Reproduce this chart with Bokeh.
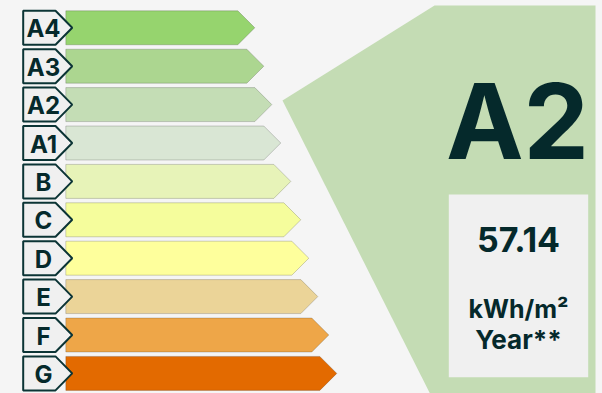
from bokeh.plotting import figure
from bokeh.models import Range1d, ColumnDataSource
from bokeh.core.properties import value
from bokeh.embed import file_html
from bokeh.resources import INLINE

# ---- data ----
categories = ["A4", "A3", "A2", "A1", "B", "C", "D", "E", "F", "G"]
bar_colors = ["#96d46e", "#acd690", "#c4ddb5", "#d9e6d4", "#e7f3b8",
              "#f5fd9c", "#feff9c", "#ebd498", "#eea648", "#e36a00"]
bar_lengths = [189, 198, 206, 215, 225, 235, 243, 252, 263, 271]
rating = "A2"
consumption = "57.14"
unit_line1 = "kWh/m²"
unit_line2 = "Year**"

BG = "#f5f5f5"
DARK = "#05292b"
PANEL = "#c4dcb4"
K = 0.33  # baseline correction factor

W, H = 602, 393
p = figure(width=W, height=H, output_backend="svg", toolbar_location=None,
           x_range=Range1d(0, 602), y_range=Range1d(393, 0),
           min_border=0, background_fill_color=BG, border_fill_color=BG,
           outline_line_color=None)
p.axis.visible = False
p.grid.visible = False

# right panel
p.patch([434, 595, 595, 433, 282], [5, 5, 400, 400, 100],
        fill_color=PANEL, line_color=None)
p.quad(left=[448.3], right=[587.7], top=[194], bottom=[376.7],
       fill_color="#f0f0f0", line_color=None)

# bars
top0, pitch, bh = 27.3, 38.4, 34.0
bx0 = 65.3
xs, ys = [], []
lx, ly = [], []
cy = []
for i, L in enumerate(bar_lengths):
    c = top0 + i * pitch
    cy.append(c)
    tip = bx0 + L
    xs.append([bx0, tip - bh / 2, tip, tip - bh / 2, bx0])
    ys.append([c - bh / 2, c - bh / 2, c, c + bh / 2, c + bh / 2])
    lx.append([22.7, 55.0, 71.7, 55.0, 22.7])
    ly.append([c - bh / 2, c - bh / 2, c, c + bh / 2, c + bh / 2])

src = ColumnDataSource(dict(xs=xs, ys=ys, color=bar_colors))
p.patches("xs", "ys", source=src, fill_color="color",
          line_color="#000000", line_alpha=0.18, line_width=1)

lsrc = ColumnDataSource(dict(xs=lx, ys=ly))
p.patches("xs", "ys", source=lsrc, fill_color="#f0f0f0",
          line_color="#0b3435", line_width=2)


def txt(x, y, t, size):
    return p.text(x, y, text=t, text_align="center",
                  text_baseline="alphabetic", text_font=value("Inter"),
                  text_font_style="bold", text_font_size=f"{size}px",
                  text_color=DARK)


lab_size = 24
tsrc = ColumnDataSource(dict(x=[43.0] * len(categories),
                             y=[c + 9 - K * lab_size for c in cy],
                             t=categories))
p.text("x", "y", text="t", source=tsrc, text_align="center",
       text_baseline="alphabetic", text_font=value("Inter"),
       text_font_style="bold", text_font_size=f"{lab_size}px",
       text_color=DARK)

txt([517], [155 - K * 104], [rating], 104)
txt([518], [250 - K * 34], [consumption], 34)
txt([518], [317 - K * 25], [unit_line1], 25)
txt([518], [348 - K * 26], [unit_line2], 26)

try:
    from bokeh.models import GlobalInlineStyleSheet
    p.stylesheets = [GlobalInlineStyleSheet(css="body{background:#f5f5f5;}")]
except Exception:
    pass

open("out.html", "w").write(file_html(p, INLINE))
